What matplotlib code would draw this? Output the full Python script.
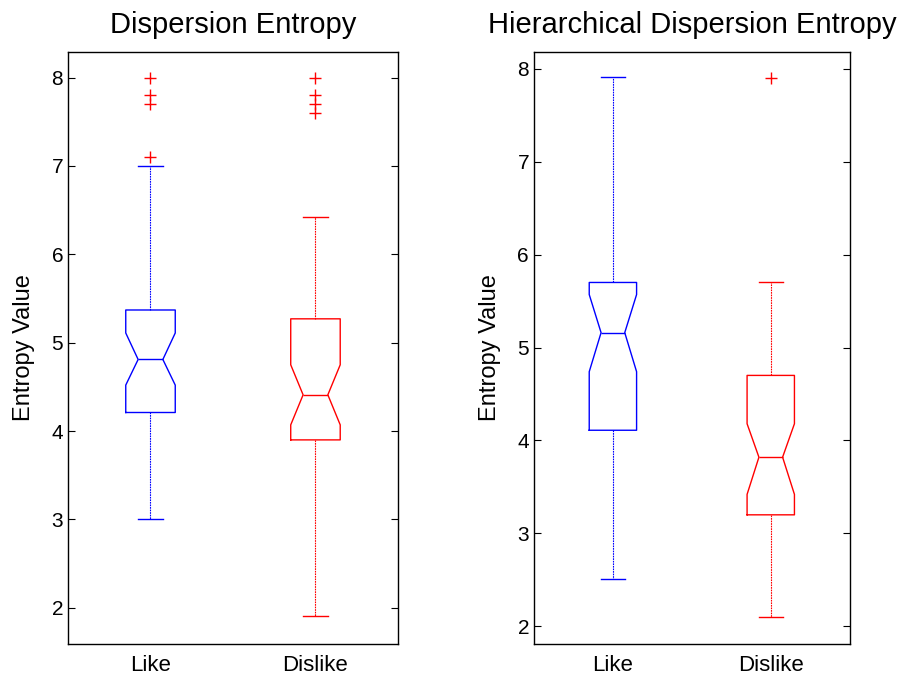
import matplotlib
matplotlib.use("Agg")
import matplotlib.pyplot as plt

plt.rcParams['font.family'] = ['Liberation Sans', 'DejaVu Sans']

groups = ['Like', 'Dislike']
colors = ['blue', 'red']

# Dispersion Entropy
de_q1 = [4.21, 3.90]
de_med = [4.81, 4.41]
de_q3 = [5.37, 5.27]
de_cilo = [4.52, 4.07]
de_cihi = [5.11, 4.75]
de_whislo = [3.00, 1.91]
de_whishi = [7.00, 6.42]
de_fliers = [[8.0, 7.8, 7.7, 7.1], [8.0, 7.8, 7.7, 7.6]]

# Hierarchical Dispersion Entropy
hde_q1 = [4.11, 3.20]
hde_med = [5.16, 3.82]
hde_q3 = [5.70, 4.70]
hde_cilo = [4.74, 3.42]
hde_cihi = [5.57, 4.18]
hde_whislo = [2.51, 2.10]
hde_whishi = [7.91, 5.70]
hde_fliers = [[], [7.9]]


def make_stats(q1, med, q3, cilo, cihi, wlo, whi, fliers):
    stats = []
    for i in range(len(groups)):
        stats.append(dict(q1=q1[i], med=med[i], q3=q3[i], cilo=cilo[i],
                          cihi=cihi[i], whislo=wlo[i], whishi=whi[i],
                          fliers=fliers[i], label=groups[i]))
    return stats


def draw(ax, stats, title, ylim):
    for i, st in enumerate(stats):
        c = colors[i]
        ax.bxp([st], positions=[i + 1], widths=0.3, shownotches=True,
               boxprops=dict(color=c, lw=1.0),
               medianprops=dict(color=c, lw=1.0),
               whiskerprops=dict(color=c, lw=0.8, linestyle=(0, (1.5, 0.8))),
               capprops=dict(color=c, lw=1.0),
               flierprops=dict(marker='+', markeredgecolor='red', markersize=9,
                               markeredgewidth=1.0, linestyle='none'))
    ax.set_xlim(0.5, 2.5)
    ax.set_ylim(*ylim)
    ax.set_xticks([1, 2])
    ax.set_xticklabels(groups)
    ax.set_yticks([2, 3, 4, 5, 6, 7, 8])
    ax.tick_params(axis='y', direction='in', right=True, length=5, labelsize=15)
    ax.tick_params(axis='x', length=0, labelsize=16, pad=8)
    ax.set_ylabel('Entropy Value', fontsize=17, labelpad=12)
    ax.set_title(title, fontsize=21, pad=14)
    for s in ax.spines.values():
        s.set_linewidth(1.0)


fig = plt.figure(figsize=(9.02, 6.81), dpi=100)
ax1 = fig.add_axes([0.0754, 0.0543, 0.3658, 0.8694])
ax2 = fig.add_axes([0.592, 0.0543, 0.350, 0.8694])

draw(ax1, make_stats(de_q1, de_med, de_q3, de_cilo, de_cihi, de_whislo, de_whishi, de_fliers),
     'Dispersion Entropy', (1.59, 8.29))
draw(ax2, make_stats(hde_q1, hde_med, hde_q3, hde_cilo, hde_cihi, hde_whislo, hde_whishi, hde_fliers),
     'Hierarchical Dispersion Entropy', (1.81, 8.18))

fig.savefig('out.png', dpi=100)
